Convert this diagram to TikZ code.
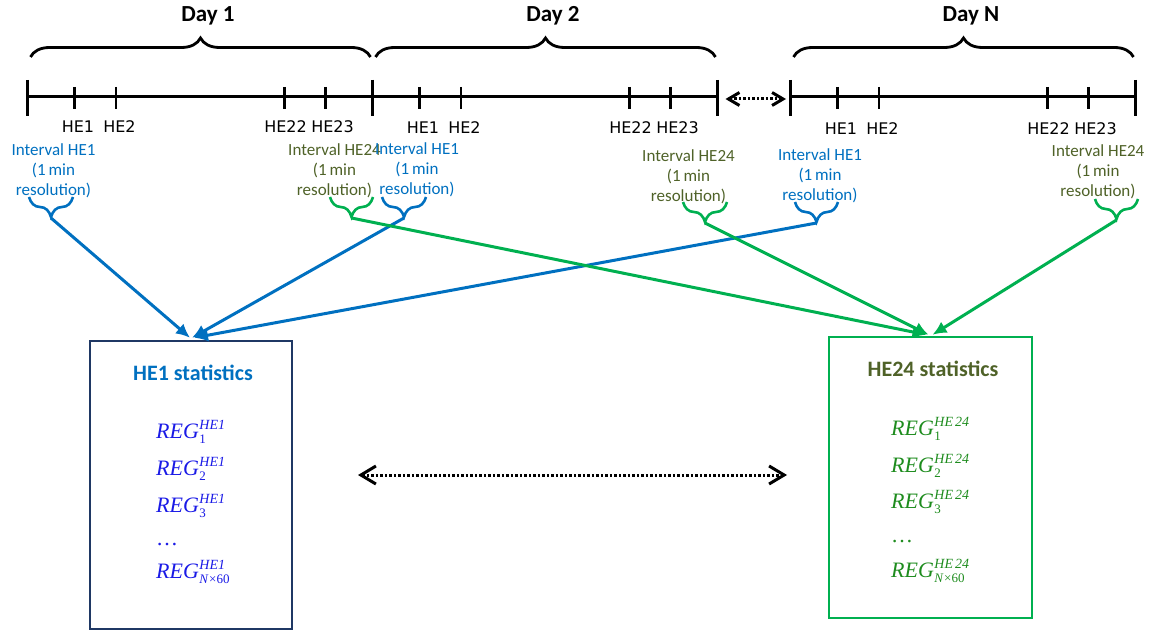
\documentclass[tikz,border=0pt]{standalone}
\usepackage{fontspec}
\setmainfont{Carlito}
\newfontfamily\hefont{DejaVu Sans}
\newfontfamily\regfont{Liberation Serif}
\usetikzlibrary{arrows.meta,decorations.pathreplacing}

\definecolor{ivblue}{RGB}{0,112,192}
\definecolor{ivolive}{RGB}{79,98,40}
\definecolor{ivgreen}{RGB}{0,176,80}
\definecolor{boxnavy}{RGB}{31,56,100}
\definecolor{regblue}{RGB}{26,26,230}
\definecolor{reggreen}{RGB}{30,140,30}

% REG symbol with stacked superscript / subscript
\newcommand\regsym[2]{\textit{REG}\kern0.5pt\rlap{\raisebox{8.5pt}{\fontsize{14}{14}\selectfont\itshape #1}}\raisebox{-5pt}{\fontsize{13}{13}\selectfont #2}}

% one day of the time axis: #1 name, #2 x offset, #3 label, #4 vertical shift of the HE labels
\newcommand\dayaxis[4]{%
\begin{scope}[xshift=#2pt]
  \coordinate (#1s) at (0,97);
  \coordinate (#1e) at (345.5,97);
  \draw[axisline] (#1s) -- (#1e);
  \draw[majortick] (0,80) -- (0,116);
  \draw[majortick] (345.5,80) -- (345.5,116);
  \foreach \t in {47.5,89,257.5,298.5} \draw[minortick] (\t,87) -- (\t,109);
  \draw[daybrace] (3.5,57) -- (343.5,57);
  \node[daylab] (#1lab) at (181,22) {#3};
  \node[helab] (#1he1)  at (51,133+#4)  {HE1};
  \node[helab] (#1he2)  at (92.5,133+#4)  {HE2};
  \node[helab] (#1he22) at (258.5,133+#4) {HE22};
  \node[helab] (#1he23) at (305.5,133+#4) {HE23};
\end{scope}}

\begin{document}
\begin{tikzpicture}[x=1pt,y=-1pt,
  axisline/.style={line width=3pt},
  majortick/.style={line width=3pt},
  minortick/.style={line width=2.8pt},
  daybrace/.style={decorate,decoration={brace,amplitude=19pt},line width=2.8pt},
  hebrace/.style={decorate,decoration={brace,amplitude=20pt,mirror},line width=2.6pt},
  daylab/.style={font=\bfseries\fontsize{23}{27}\selectfont,anchor=base,inner sep=0pt},
  helab/.style={font=\hefont\fontsize{16}{19}\selectfont,anchor=base,inner sep=0pt},
  ival/.style={align=center,font=\fontsize{17}{20}\selectfont,inner sep=0pt,anchor=north},
  feed/.style={line width=3pt,-{Latex[length=14pt,width=13pt]}},
  smallgap/.style={line width=3pt,dash pattern=on 2.5pt off 2pt,
    {Straight Barb[length=11pt,width=13pt]}-{Straight Barb[length=11pt,width=13pt]}},
  biggap/.style={line width=3pt,dash pattern=on 2.5pt off 2pt,
    {Straight Barb[length=15pt,width=18pt]}-{Straight Barb[length=15pt,width=18pt]}},
  statbox/.style={draw,line width=2.5pt,inner sep=0pt},
  stattitle/.style={font=\bfseries\fontsize{22}{26}\selectfont,anchor=base,inner sep=0pt},
  reg/.style={font=\regfont\fontsize{22}{26}\selectfont,anchor=base west,inner sep=0pt}]
\useasboundingbox (0,0) rectangle (1151,631);

% time axis
\dayaxis{dA}{27}{Day 1}{0}
\dayaxis{dB}{372}{Day 2}{1}
\dayaxis{dN}{790}{Day N}{2}
\draw[smallgap] ([xshift=8pt,yshift=-2pt]dBe) -- ([xshift=-4pt,yshift=-2pt]dNs);

% hourly interval labels
\node[ival,text=ivblue]  (iA1)  at (53.5,143) {Interval HE1\\(1\,min\\resolution)};
\node[ival,text=ivolive] (iA24) at (334.5,143) {Interval HE24\\(1\,min\\resolution)};
\node[ival,text=ivblue]  (iB1)  at (417,142) {Interval HE1\\(1\,min\\resolution)};
\node[ival,text=ivolive] (iB24) at (688.5,149) {Interval HE24\\(1\,min\\resolution)};
\node[ival,text=ivblue]  (iN1)  at (820,148) {Interval HE1\\(1\,min\\resolution)};
\node[ival,text=ivolive] (iN24) at (1098,144) {Interval HE24\\(1\,min\\resolution)};

% small braces under the interval labels
\draw[hebrace,ivblue]  (29,197) -- (73,197);     \coordinate (tA1)  at (51,218);
\draw[hebrace,ivgreen] (330,197) -- (373,197);   \coordinate (tA24) at (351.5,218);
\draw[hebrace,ivblue]  (382,197) -- (426,197);   \coordinate (tB1)  at (404,218);
\draw[hebrace,ivgreen] (683,202) -- (727,202);   \coordinate (tB24) at (705,223);
\draw[hebrace,ivblue]  (795,202) -- (838,202);   \coordinate (tN1)  at (816.5,223);
\draw[hebrace,ivgreen] (1095,199) -- (1138,199); \coordinate (tN24) at (1116.5,220);

% statistics boxes
\node[statbox,draw=boxnavy,minimum width=202pt,minimum height=288pt] (he1box) at (191,485) {};
\node[statbox,draw=ivgreen,minimum width=203pt,minimum height=281pt] (he24box) at (930.5,477.5) {};

\node[stattitle,text=ivblue]  (he1title)  at (193,380) {HE1 statistics};
\node[stattitle,text=ivolive] (he24title) at (933,376) {HE24 statistics};

\node[reg,text=regblue] (r11) at (156,438) {\regsym{HE1}{1}};
\node[reg,text=regblue] (r12) at (156,475) {\regsym{HE1}{2}};
\node[reg,text=regblue] (r13) at (156,512) {\regsym{HE1}{3}};
\node[reg,text=regblue] (r1d) at (156,545) {\ldots};
\node[reg,text=regblue] (r1n) at (156,578) {\regsym{HE1}{\textit{N}\kern0.5pt×60}};

\node[reg,text=reggreen] (r21) at (891,435) {\regsym{HE\kern2pt 24}{1}};
\node[reg,text=reggreen] (r22) at (891,472) {\regsym{HE\kern2pt 24}{2}};
\node[reg,text=reggreen] (r23) at (891,508) {\regsym{HE\kern2pt 24}{3}};
\node[reg,text=reggreen] (r2d) at (891,542) {\ldots};
\node[reg,text=reggreen] (r2n) at (891,577) {\regsym{HE\kern2pt 24}{\textit{N}\kern0.5pt×60}};

% feeds from the intervals into the statistics
\draw[feed,ivblue] (tA1) -- ([xshift=-1pt,yshift=2pt]he1box.north);
\draw[feed,ivblue] (tB1) -- ([xshift=1pt,yshift=2pt]he1box.north);
\draw[feed,ivblue] (tN1) -- ([xshift=3pt,yshift=2pt]he1box.north);
\draw[feed,ivgreen] (tA24) -- ([xshift=-4pt,yshift=1pt]he24box.north);
\draw[feed,ivgreen] (tB24) -- ([xshift=-2pt,yshift=1pt]he24box.north);
\draw[feed,ivgreen] (tN24) -- ([xshift=2pt,yshift=1pt]he24box.north);

% link between the two statistics boxes
\coordinate (gapL) at (358,475);
\coordinate (gapR) at (787,475);
\draw[biggap] (gapL) -- (gapR);
\end{tikzpicture}
\end{document}
